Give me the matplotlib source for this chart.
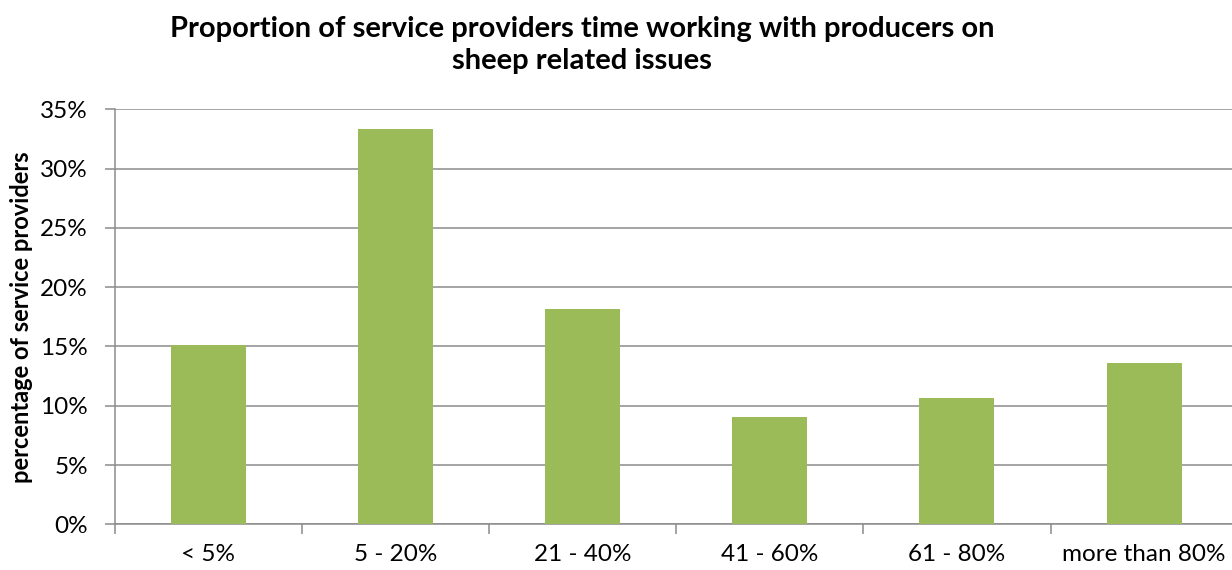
import matplotlib
matplotlib.use("Agg")
import matplotlib.pyplot as plt
from matplotlib.ticker import FuncFormatter, MultipleLocator

# categories and share of service providers (%)
categories = ["< 5%", "5 - 20%", "21 - 40%", "41 - 60%", "61 - 80%", "more than 80%"]
values = [15.15, 33.33, 18.18, 9.09, 10.61, 13.64]

plt.rcParams['font.family'] = ['Lato', 'DejaVu Sans']

W, H = 1232, 570
fig = plt.figure(figsize=(W / 100, H / 100), dpi=100)

# plot area runs slightly past the right edge, like the original screenshot
left, right = 114.5, 1237.7
top, bottom = 109.3, 524.3
ax = fig.add_axes([left / W, 1 - bottom / H, (right - left) / W, (bottom - top) / H])

x = list(range(len(categories)))
ax.bar(x, values, width=0.4, color='#9BBB59', zorder=3)

ax.set_xlim(-0.5, len(categories) - 0.5)
ax.set_ylim(0, 35)
ax.yaxis.set_major_locator(MultipleLocator(5))
ax.yaxis.set_major_formatter(FuncFormatter(lambda v, p: f"{v:.0f}%"))
ax.grid(axis='y', color='#8c8c8c', linewidth=1.1, zorder=0)

# category labels without tick marks, ticks at the boundaries
ax.set_xticks(x)
ax.set_xticklabels(categories)
ax.tick_params(axis='x', length=0, labelsize=17.5, pad=14, colors='black')
ax.set_xticks([i + 0.5 for i in range(-1, len(categories))], minor=True)
ax.tick_params(axis='x', which='minor', length=7, width=1.1, color='#8c8c8c')
ax.tick_params(axis='y', length=7, width=1.1, color='#8c8c8c', labelsize=17.5, pad=12)

for s in ['top', 'right']:
    ax.spines[s].set_visible(False)
for s in ['left', 'bottom']:
    ax.spines[s].set_color('#8c8c8c')
    ax.spines[s].set_linewidth(1.1)

ax.set_ylabel('percentage of service providers', fontsize=17, fontweight='bold', labelpad=5)

fig.text(582 / W, 1 - 45 / H, 'Proportion of service providers time working with producers on\nsheep related issues',
         ha='center', va='center', fontsize=21, fontweight='bold', linespacing=1.25)

fig.savefig('out.png', dpi=100)
